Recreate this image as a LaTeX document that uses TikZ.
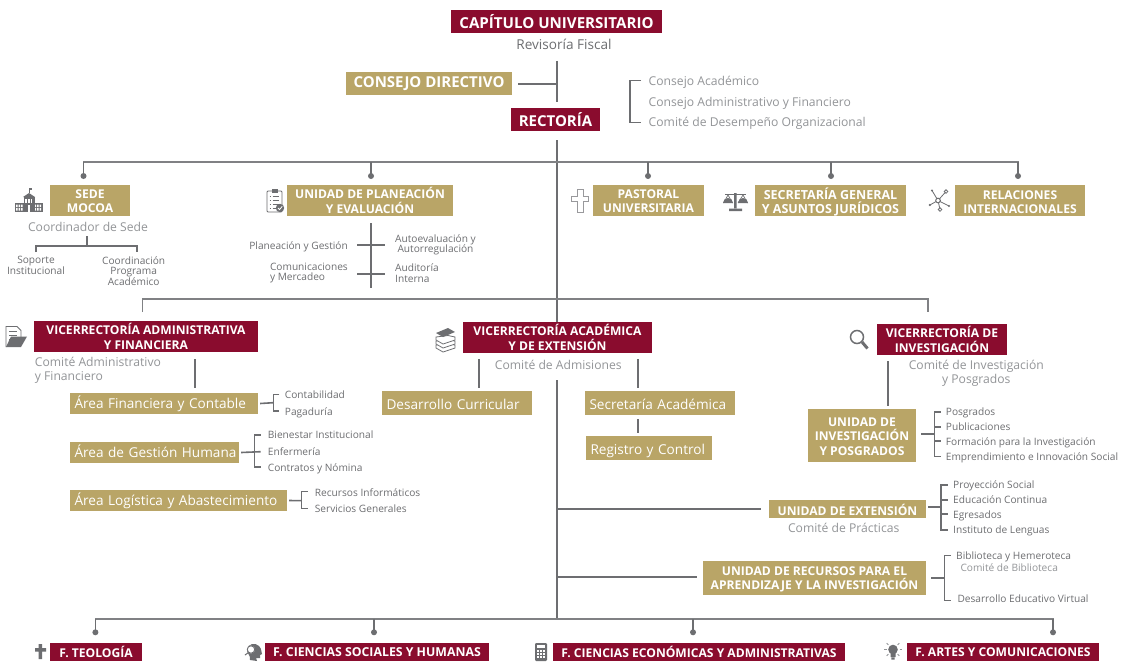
\documentclass[tikz,border=0pt]{standalone}
\usepackage{fontspec}
\setmainfont{Open Sans}
\definecolor{maroon}{HTML}{8A0C2E}
\definecolor{gold}{HTML}{B9A567}
\definecolor{ink}{HTML}{6D6E71}
\definecolor{dim}{HTML}{939598}
\definecolor{bus}{HTML}{808184}
\newcommand\fs[2]{\fontsize{#1}{#2}\selectfont}
\tikzset{
  boxn/.style={inner sep=0pt,align=center,text=white,font=\bfseries\fs{12.1}{14.6}},
  red/.style={boxn,fill=maroon},
  yel/.style={boxn,fill=gold},
  area/.style={inner ysep=0pt,inner xsep=4.5pt,fill=gold,text=white,font=\fs{13.6}{16},align=left,text height=11pt,text depth=2pt},
  tall/.style={text height=13.5pt,text depth=1.5pt},
  lab/.style={inner sep=0pt,text=ink,font=\fs{10.15}{10.4},align=left,text height=7.5pt,text depth=2.2pt,yshift=-2pt},
  mlab/.style={inner sep=0pt,text=ink,font=\fs{10.15}{10.4},align=left},
  dimlab/.style={inner sep=0pt,text=dim,font=\fs{12.15}{13.6},align=center},
  dimone/.style={dimlab,anchor=west,text height=8.5pt,text depth=2.5pt,yshift=-1.5pt},
  conn/.style={draw=ink,line width=2pt},
  brk/.style={draw=ink,line width=1.2pt},
  buss/.style={draw=bus,line width=1.5pt},
  dot/.style={circle,fill=ink,inner sep=0pt,minimum size=6pt},
  ic/.style={draw=ink,line width=0.8pt,fill=white},
  icf/.style={fill=ink,draw=none}
}
% [text shift], name, style, x1, y1, x2, y2, text
\newcommand\bx[8][0]{\node[#3,minimum width={(#6-#4)*1pt},minimum height={(#7-#5)*1pt}] (#2) at ({(#4+#6)/2},{(#5+#7)/2}) {};
  \node[#3,fill=none,yshift=-#1pt] (#2-t) at (#2) {#8};}
% [style], name, x1, y1, x2, y2, text
\newcommand\ar[6][]{\node[area,#1,text width={(#4-#2-9)*1pt},minimum height={(#5-#3)*1pt}] (#2n) at ({(#3+#5)/2},{(#4+#6)/2}) {};}
\newcommand\arn[7][]{\node[area,#1,text width={(#5-#3-9)*1pt},minimum height={(#6-#4)*1pt}] (#2) at ({(#3+#5)/2},{(#4+#6)/2}) {\mbox{#7}};}
\newcommand\tx[5]{\node[#2] (#1) at (#3,#4) {#5};}
% bracket: x, tip x, top y, bottom y, list of tick ys
\newcommand\brak[5]{\draw[brk] (#2,#3) -- (#1,#3) -- (#1,#4) -- (#2,#4);\foreach \yy in {#5}{\draw[brk] (#1,\yy) -- (#2,\yy);}}
\begin{document}
\begin{tikzpicture}[x=1pt,y=-1pt]
\useasboundingbox (0,0) rectangle (1129,661);
\fill[white] (0,0) rectangle (1129,661);

% top
\bx{capitulo}{red,font=\bfseries\fs{15.1}{17}}{451}{10}{662}{33}{CAPÍTULO UNIVERSITARIO}
\tx{revisoria}{lab,font=\fs{13.6}{14}}{564}{45}{Revisoría Fiscal}
\bx{consejo}{yel,font=\bfseries\fs{15}{17}}{346}{72}{512}{95}{CONSEJO DIRECTIVO}
\bx{rectoria}{red,font=\bfseries\fs{15}{17}}{511}{108}{600}{131}{RECTORÍA}
\coordinate (s0) at (557,61);
\coordinate (s1) at (557,102);
\coordinate (s2) at (557,140);
\coordinate (s3) at (557,322);
\coordinate (s4) at (557,380);
\coordinate (s5) at (557,619);
\draw[conn] (s0) -- (s1);
\draw[conn] ([xshift=6pt]consejo.east) -- (consejo.east -| s0);
\draw[conn] (s2) -- (s3);
\draw[conn] (s4) -- (s5);
\brak{630}{641}{80.5}{122.3}{}
\tx{ca}{dimone}{648.5}{81.3}{Consejo Académico}
\tx{caf}{dimone}{648.5}{101.7}{Consejo Administrativo y Financiero}
\tx{cdo}{dimone}{648.5}{122.3}{Comité de Desempeño Organizacional}

% first bus
\bx[0.6]{sede}{yel}{50}{185}{130}{216}{SEDE\\MOCOA}
\bx{plan}{yel}{287}{185}{453}{216}{UNIDAD DE PLANEACIÓN\\Y EVALUACIÓN}
\bx[0.6]{past}{yel}{593}{185}{704}{216}{PASTORAL\\UNIVERSITARIA}
\bx[1.6]{secr}{yel,font=\bfseries\fs{12.5}{14.6}}{755}{185}{906}{216}{SECRETARÍA GENERAL\\Y ASUNTOS JURÍDICOS}
\bx[1.6]{rela}{yel}{955}{185}{1085}{216}{RELACIONES\\INTERNACIONALES}
\coordinate (b1l) at (83.5,162);
\coordinate (b1r) at (1018,162);
\draw[buss] (b1l |- 0,176) -- (b1l) -- (b1r) -- (b1r |- 0,176);
\foreach \n/\xx in {d1/83.5,d2/371,d3/648,d4/831,d5/1018}{
  \draw[brk,line width=1.5pt] (\xx,162) -- (\xx,176);
  \node[dot] (\n) at (\xx,176) {};
}

% sede
\tx{coord}{dimlab}{88}{226.5}{Coordinador de Sede}
\coordinate (sj) at (87,246);
\coordinate (sa) at (36,246);
\coordinate (sb) at (137,246);
\draw[conn,line width=1.5pt] (87,236) -- (sj);
\draw[brk] (sa |- 0,252) -- (sa) -- (sb) -- (sb |- 0,252);
\tx{soporte}{mlab,align=center}{36}{265.5}{Soporte\\Institucional}
\tx{cpa}{mlab,align=center}{133.7}{270.8}{Coordinación\\Programa\\Académico}

% planeacion
\coordinate (pt) at (370.7,223);
\coordinate (pb) at (370.7,287.5);
\draw[conn,line width=1.6pt] (pt) -- (pb);
\draw[conn,line width=1.6pt] (357,245) -- (385,245);
\draw[conn,line width=1.6pt] (357,274) -- (385,274);
\tx{pg}{lab,anchor=east}{348}{245.3}{Planeación y Gestión}
\tx{cm}{mlab,anchor=east}{348}{273}{Comunicaciones\\y Mercadeo}
\tx{aa}{mlab,anchor=west,align=center}{395}{245}{Autoevaluación y\\Autorregulación}
\tx{ai}{mlab,anchor=west}{395}{273}{Auditoría\\Interna}

% second bus
\coordinate (b2l) at (142.7,299);
\coordinate (b2r) at (928,299);
\draw[buss] (142.7,312) -- (b2l) -- (b2r) -- (928,312);

% vic adm
\bx{vadm}{red}{34}{321}{258}{352}{VICERRECTORÍA ADMINISTRATIVA\\Y FINANCIERA}
\tx{cadm}{dimlab,anchor=west,align=left}{34.7}{370.5}{Comité Administrativo\\y Financiero}
\coordinate (va1) at (194.7,359);
\coordinate (va2) at (194.7,387.7);
\draw[conn] (va1) -- (va2);
\arn{afc}{70}{393}{258}{414}{Área Financiera y Contable}
\arn{agh}{70}{442}{239}{463}{Área de Gestión Humana}
\arn{ala}{70}{490}{287}{511}{Área Logística y Abastecimiento}
\draw[conn,line width=1.6pt] ([xshift=2pt]afc.east) -- (273.3,402.7);
\brak{273.3}{279.3}{394.3}{411}{}
\tx{t1}{lab,anchor=west}{284.7}{394.3}{Contabilidad}
\tx{t2}{lab,anchor=west}{284.7}{411}{Pagaduría}
\draw[conn,line width=1.6pt] ([xshift=2pt]agh.east) -- (260.7,451.7);
\brak{254.3}{260.7}{435}{467}{}
\tx{t3}{lab,anchor=west}{267.7}{434.3}{Bienestar Institucional}
\tx{t4}{lab,anchor=west}{267.7}{450.5}{Enfermería}
\tx{t5}{lab,anchor=west}{267.7}{466.7}{Contratos y Nómina}
\draw[conn,line width=1.6pt] ([xshift=2pt]ala.east) -- (301.7,500.7);
\brak{301.7}{307.7}{491.7}{508.3}{}
\tx{t6}{lab,anchor=west}{314.7}{491.7}{Recursos Informáticos}
\tx{t7}{lab,anchor=west}{314.7}{507.7}{Servicios Generales}

% vic acad
\bx{vaca}{red}{463}{322}{652}{353}{VICERRECTORÍA ACADÉMICA\\Y DE EXTENSIÓN}
\tx{cadm2}{dimlab}{558.3}{364.7}{Comité de Admisiones}
\draw[conn] (479,359) -- (479,387.7);
\draw[conn] (638,359) -- (638,387.7);
\arn[tall]{dcur}{382}{391}{532}{415}{Desarrollo Curricular}
\arn[tall]{sacad}{585}{391}{735}{415}{Secretaría Académica}
\arn[tall]{rcon}{586}{436}{712}{460}{Registro y Control}
\draw[conn] (638,419) -- (638,432.7);

% vic inv
\bx{vinv}{red}{877}{324}{1007}{355}{VICERRECTORÍA DE\\INVESTIGACIÓN}
\tx{cinv}{dimlab}{976.3}{373.5}{Comité de Investigación\\y Posgrados}
\draw[conn] (888,361) -- (888,406);
\bx[1]{uinv}{yel}{808}{409}{916}{462}{UNIDAD DE\\INVESTIGACIÓN\\Y POSGRADOS}
\draw[conn,line width=1.6pt] ([xshift=5pt]uinv.east |- 0,434) -- (934.3,434);
\brak{934.3}{940.7}{412}{456.7}{427,441}
\tx{t8}{lab,anchor=west}{945.7}{411.3}{Posgrados}
\tx{t9}{lab,anchor=west}{945.7}{426}{Publicaciones}
\tx{t10}{lab,anchor=west}{945.7}{441}{Formación para la Investigación}
\tx{t11}{lab,anchor=west}{945.7}{455.7}{Emprendimiento e Innovación Social}

% extension
\bx[1]{uext}{yel}{769}{500}{926}{518}{UNIDAD DE EXTENSIÓN}
\tx{cpr}{dimlab}{843.7}{528}{Comité de Prácticas}
\draw[conn] (uext.west -| s5) -- ([xshift=-8pt]uext.west);
\draw[conn,line width=1.6pt] (928,506.7) -- (941,506.7);
\brak{941}{947.7}{485}{530}{500,514}
\tx{t12}{lab,anchor=west}{953}{484.3}{Proyección Social}
\tx{t13}{lab,anchor=west}{953}{499}{Educación Continua}
\tx{t14}{lab,anchor=west}{953}{514}{Egresados}
\tx{t15}{lab,anchor=west}{953}{528.7}{Instituto de Lenguas}

% recursos
\bx[1.5]{urec}{yel}{703}{561}{926}{595}{UNIDAD DE RECURSOS PARA EL\\APRENDIZAJE Y LA INVESTIGACIÓN}
\draw[conn] (s5 |- 0,576.7) -- (696.7,576.7);
\draw[conn,line width=1.6pt] (931,577.7) -- (944.3,577.7);
\brak{944.3}{950.7}{555.7}{600.3}{}
\tx{t16}{lab,anchor=west}{956}{555}{Biblioteca y Hemeroteca}
\tx{t17}{lab,anchor=west,text=dim}{960.3}{567.3}{Comité de Biblioteca}
\tx{t18}{lab,anchor=west}{957.3}{598}{Desarrollo Educativo Virtual}

% bottom
\coordinate (b3l) at (95.4,619);
\coordinate (b3r) at (1053,619);
\draw[buss] (95.4,632) -- (b3l) -- (b3r) -- (1053,632);
\foreach \n/\xx in {e1/95.4,e2/374,e3/693,e4/1053}{
  \draw[brk,line width=1.5pt] (\xx,619) -- (\xx,632);
  \node[dot] (\n) at (\xx,632.3) {};
}
\bx{f1}{red}{50}{643}{142}{661}{F. TEOLOGÍA}
\bx{f2}{red,font=\bfseries\fs{12.3}{14.6}}{265}{643}{489}{661}{F. CIENCIAS SOCIALES Y HUMANAS}
\bx{f3}{red}{553}{643}{845}{661}{F. CIENCIAS ECONÓMICAS Y ADMINISTRATIVAS}
\bx{f4}{red}{907}{643}{1099}{661}{F. ARTES Y COMUNICACIONES}

% ---- icons ----
% building
\begin{scope}[shift={(15,188)}]
  \fill[ink] (0,15) rectangle (28,24);
  \foreach \a in {1,3.5,6,19.5,22,24.5}{\fill[white] (\a,16.5) rectangle ++(1.6,2.5) (\a,20) rectangle ++(1.6,2.5);}
  \fill[ink] (8.5,9) rectangle (19.5,24);
  \fill[ink] (8,9) -- (14,5) -- (20,9) -- cycle;
  \draw[ink,line width=0.7pt] (14,5) -- (14,0);
  \fill[ink] (14,0) rectangle (16.5,1.6);
  \fill[white] (12.8,17) rectangle (15.2,24);
  \foreach \a in {10,12.8,15.6}{\fill[white] (\a,11) rectangle ++(1.8,4);}
\end{scope}
% clipboard
\begin{scope}[shift={(267,188)}]
  \draw[ic,rounded corners=1pt] (0,3) rectangle (15,24);
  \fill[ink] (4.5,0.5) rectangle (10.5,4.5);
  \foreach \yy in {8,12,16,20}{\draw[ink,line width=0.7pt] (2.5,\yy) -- (4,\yy); \draw[ink,line width=0.7pt] (5.5,\yy) -- (12,\yy);}
  \fill[ink] (13,20) circle (4.2);
  \draw[white,line width=0.8pt] (11,20) -- (12.6,21.6) -- (15.2,18.4);
\end{scope}
% outlined cross
\draw[ic,draw=ink!70,line width=1pt] (577,189.5) -- (583,189.5) -- (583,196) -- (588,196) -- (588,201) -- (583,201) -- (583,212) -- (577,212) -- (577,201) -- (571.5,201) -- (571.5,196) -- (577,196) -- cycle;
% scales
\begin{scope}[shift={(723,192)}]
  \fill[ink] (11,1) rectangle (13.6,16) (6,16.5) rectangle (19,19);
  \fill[ink] (2,1.5) rectangle (22.5,3);
  \draw[ink,line width=0.7pt] (0.5,11) -- (5,3) -- (9.5,11) (15,11) -- (20,3) -- (24.5,11);
  \fill[ink] (0,11) -- (10,11) arc (0:-180:5) -- cycle;
  \fill[ink] (15,11) -- (25,11) arc (0:-180:5) -- cycle;
\end{scope}
% network
\begin{scope}[shift={(929,189)}]
  \draw[ink,line width=0.8pt] (9,11.5) -- (3,1.5) (9,11.5) -- (17,2.5) (9,11.5) -- (0.8,16) (9,11.5) -- (11,20.5) (9,11.5) -- (20,17);
  \draw[ic,line width=1pt] (9,11.5) circle (2.3);
  \draw[ic] (17,2.5) circle (1.8);
  \draw[ic] (11,20.5) circle (1.8);
  \fill[ink] (3,1.5) circle (1.2) (0.8,16) circle (1.2) (20,17) circle (1.2);
\end{scope}
% folder
\begin{scope}[shift={(5,326)}]
  \draw[ic,line width=0.9pt,fill=white] (1,21) -- (1,0.5) -- (12,0.5) -- (16,4.5) -- (16,12);
  \draw[ink,line width=0.7pt] (4,5) -- (12,5) (4,9) -- (12,9) (4,13) -- (10,13);
  \fill[ink] (1,21) -- (6,10.5) -- (22,10.5) -- (16,21) -- cycle;
\end{scope}
% books
\begin{scope}[shift={(435,328)}]
  \foreach \yy in {14,10,6}{
    \draw[ink,line width=0.8pt,fill=white] (1,\yy+3) -- (13,\yy-1.5+3) -- (20,\yy+3) -- (20,\yy+6) -- (8,\yy+10) -- (1,\yy+6) -- cycle;
  }
  \fill[ink] (1,5) -- (13,0) -- (20,4) -- (8,9) -- cycle;
\end{scope}
% magnifier
\draw[ink,line width=1.5pt] (857,337) circle (6.5);
\draw[ink,line width=3pt] (862,342) -- (867.5,348.5);
% small cross
\fill[ink] (38.5,644) rectangle (42,659) (35,648) rectangle (46,651.5);
% head
\begin{scope}[shift={(244,643)}]
  \fill[ink] (6,17) .. controls (7,12) and (2,10) .. (3,6) .. controls (4,1) and (11,-1) .. (15,3) .. controls (18,6) and (17,9) .. (18,11) -- (16,12) -- (16,15) -- (12,15) -- (13,18) -- cycle;
  \draw[white,line width=0.9pt,fill=white] (7,6.5) circle (3.5);
  \draw[ink,line width=0.9pt] (7,6.5) circle (3.7);
  \draw[ink,line width=1pt] (4.5,9.5) -- (1,12);
\end{scope}
% calculator
\begin{scope}[shift={(535,643)}]
  \fill[ink,rounded corners=1.2pt] (0,0) rectangle (12,18);
  \fill[white] (1.8,1.8) rectangle (10.2,5.2);
  \foreach \a in {2,5,8}{\foreach \b in {7,10,13}{\fill[white] (\a,\b) rectangle ++(2,2);}}
\end{scope}
% bulb
\begin{scope}[shift={(893,652)}]
  \fill[ink] (0,-2.5) circle (4.8);
  \fill[ink] (-2.5,0) rectangle (2.5,5) (-1.7,5.5) rectangle (1.7,7.5);
  \foreach \a in {0,45,135,180,225,315}{\draw[dim,line width=0.8pt] (\a:6.5)++(0,-2.5) -- ++(\a:2.5);}
\end{scope}
\end{tikzpicture}
\end{document}
